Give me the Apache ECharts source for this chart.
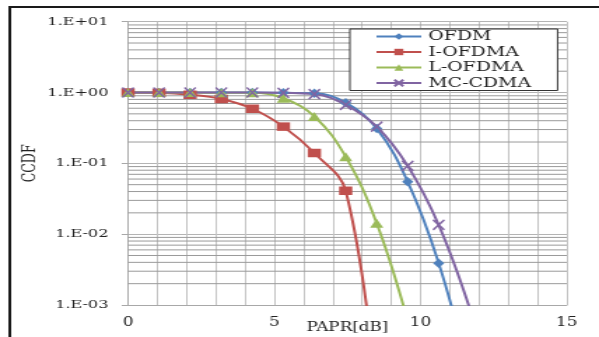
<!DOCTYPE html>
<html>
<head>
<meta charset="utf-8">
<script src="https://cdn.jsdelivr.net/npm/echarts@6/dist/echarts.min.js"></script>
<style>
  html, body { margin: 0; padding: 0; background: #fff; overflow: hidden; }
  /* the source picture is stretched sideways, so draw it narrow and widen it */
  #chart { width: 428px; height: 337px; transform: scaleX(1.3995); transform-origin: 0 0; }
</style>
</head>
<body>
<div id="chart"></div>
<script>
const papr = [0, 1.06, 2.12, 3.19, 4.25, 5.31, 6.37, 7.44, 8.5, 9.56, 10.62, 11.68]
const ofdm = [1, 1, 1, 1, 1, 0.99, 0.98, 0.72, 0.31, 0.055, 0.0039, 0.0001]
const iOfdma = [1, 0.99, 0.93, 0.81, 0.59, 0.33, 0.14, 0.041, 0.00005]
const lOfdma = [1, 1, 1, 0.99, 0.99, 0.83, 0.46, 0.124, 0.0143, 0.0006]
const mcCdma = [1, 1, 1, 1, 1, 0.99, 0.95, 0.67, 0.33, 0.092, 0.0135, 0.0009]
const seriesNames = ['OFDM', 'I-OFDMA', 'L-OFDMA', 'MC-CDMA']
const decades = [-3, -2, -1, 0]
const minorSteps = [2, 3, 4, 5, 6, 7, 8, 9]
const xRange = [0, 15]

const FONT = 'DejaVu Serif'
const GRID = '#c4c4c4'
const AXIS = '#a8a8a8'

// log minor grid (2..9 in each decade) as one broken line across the plot
const minorGrid = []
decades.forEach(e => minorSteps.forEach(k => {
  const v = k * Math.pow(10, e)
  minorGrid.push([xRange[0], v], [xRange[1], v], [xRange[1], null])
}))

const toPoints = values => values.map((v, i) => [papr[i], v])

const expLabel = v => {
  const e = Math.round(Math.log10(v))
  return '1.E' + (e < 0 ? '-' : '+') + String(Math.abs(e)).padStart(2, '0')
}

const lineSeries = (name, values, color, symbol, size, extra) => Object.assign({
  name,
  type: 'line',
  data: toPoints(values),
  smooth: 0.4,
  symbol,
  symbolSize: size,
  showAllSymbol: true,
  z: 3,
  lineStyle: { color, width: 2 },
  itemStyle: { color },
  emphasis: { disabled: true }
}, extra)

const chart = echarts.init(document.getElementById('chart'))

chart.setOption({
  animation: false,
  backgroundColor: '#fff',
  graphic: [{
    type: 'rect',
    silent: true,
    shape: { x: 7, y: 7, width: 460, height: 400 },
    style: { fill: 'none', stroke: '#1a1a1a', lineWidth: 2 }
  }],
  grid: { left: 91.5, right: 23, top: 21.7, bottom: 32, outerBoundsMode: 'none' },
  legend: {
    data: seriesNames,
    orient: 'vertical',
    left: 250,
    top: 29,
    padding: [0, 19, 0, 18],
    itemWidth: 32,
    itemHeight: 8,
    itemGap: 0.5,
    backgroundColor: '#fff',
    borderColor: '#333',
    borderWidth: 1,
    selectedMode: false,
    textStyle: { fontFamily: FONT, fontSize: 13.5, lineHeight: 15, color: '#222' }
  },
  xAxis: {
    type: 'value',
    min: xRange[0],
    max: xRange[1],
    interval: 5,
    name: 'PAPR[dB]',
    nameLocation: 'middle',
    nameGap: 17,
    nameMoveOverlap: false,
    nameTextStyle: { fontFamily: FONT, fontSize: 12, color: '#222' },
    axisLine: { show: true, onZero: false, lineStyle: { color: AXIS } },
    axisTick: { show: false },
    axisLabel: { margin: 12, fontFamily: FONT, fontSize: 12, color: '#222' },
    splitLine: { show: true, lineStyle: { color: GRID } },
    minorTick: { show: false, splitNumber: 5 },
    minorSplitLine: { show: true, lineStyle: { color: GRID } }
  },
  yAxis: {
    type: 'log',
    logBase: 10,
    min: 0.001,
    max: 10,
    name: 'CCDF',
    nameLocation: 'middle',
    nameGap: 63,
    nameMoveOverlap: false,
    nameTextStyle: { fontFamily: FONT, fontSize: 12.5, color: '#222' },
    axisLine: { show: true, lineStyle: { color: AXIS } },
    axisTick: { show: true, length: 4.5, lineStyle: { color: AXIS } },
    axisLabel: { margin: 14, fontFamily: FONT, fontSize: 11.5, color: '#222', formatter: expLabel },
    splitLine: { show: true, lineStyle: { color: '#b4b4b4' } }
  },
  series: [
    {
      name: 'minor grid',
      type: 'line',
      data: minorGrid,
      symbol: 'none',
      silent: true,
      z: 1,
      lineStyle: { color: '#9a9a9a', width: 1 },
      emphasis: { disabled: true }
    },
    lineSeries('OFDM', ofdm, '#4F81BD', 'diamond', [8, 9.5]),
    lineSeries('I-OFDMA', iOfdma, '#C0504D', 'rect', [9.5, 8.5]),
    lineSeries('L-OFDMA', lOfdma, '#9BBB59', 'triangle', [9.5, 9]),
    lineSeries('MC-CDMA', mcCdma, '#8064A2', 'path://M0,0L10,10M10,0L0,10', [8, 10], {
      itemStyle: { color: '#8064A2', borderColor: '#8064A2', borderWidth: 1.5 }
    })
  ]
})
</script>
</body>
</html>
